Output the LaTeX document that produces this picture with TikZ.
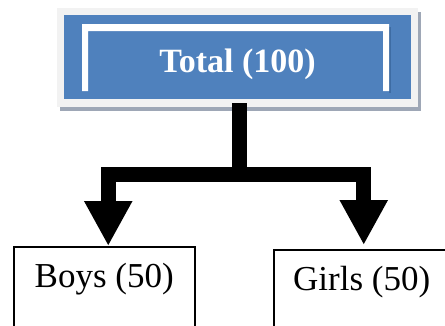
\documentclass[tikz,border=0pt]{standalone}
\usepackage{fontspec}
\setmainfont{Liberation Serif}
\usetikzlibrary{arrows.meta}
\definecolor{hdrblue}{HTML}{4F81BD}
\definecolor{hdrblueshade}{HTML}{3E6CA3}
\definecolor{hdrframe}{HTML}{F2F2F2}
\definecolor{hdrshadow}{HTML}{9EA7B6}
\begin{document}
\begin{tikzpicture}[x=1pt,y=-1pt,
  topbox/.style={minimum width=361pt, minimum height=99pt, inner sep=0pt,
    text=white, font=\fontsize{34}{40}\selectfont\bfseries,
    text height=29pt, text depth=0pt},
  leafbox/.style={draw=black, line width=1.5pt, inner sep=0pt,
    font=\fontsize{35}{42}\selectfont, text height=41pt, text depth=80pt,
    anchor=north west},
  conn/.style={line width=15pt, -{Triangle[width=45pt,length=45pt]}}]
\useasboundingbox (0,0) rectangle (445,325);
\clip (0,0) rectangle (445,325);
% header box layers
\fill[hdrshadow] (60,12) rectangle (421,111);
\fill[hdrframe] (57,8) rectangle (418,107);
\fill[hdrblue] (64,15) rectangle (411,99);
\fill[hdrblueshade] (389,27) rectangle (391,93);
\fill[white] (82,24) -- (389,24) -- (389,91) -- (383,91) -- (383,31)
  -- (88,31) -- (88,91) -- (82,91) -- cycle;
\node[topbox] (total) at (237.5,57.5) {Total (100)};
% leaf boxes
\node[leafbox, minimum width=181pt] (boys) at (13,246) {Boys (50)};
\node[leafbox, minimum width=176pt] (girls) at (273,249) {Girls (50)};
% connectors
\coordinate (split) at (239.5,174.5);
\draw[conn] ([shift={(2pt,4pt)}]total.south) -- (split) -| ([xshift=4pt]boys.north);
\draw[conn] ([shift={(2pt,4pt)}]total.south) -- (split) -| ([shift={(2pt,4pt)}]girls.north);
\end{tikzpicture}
\end{document}
